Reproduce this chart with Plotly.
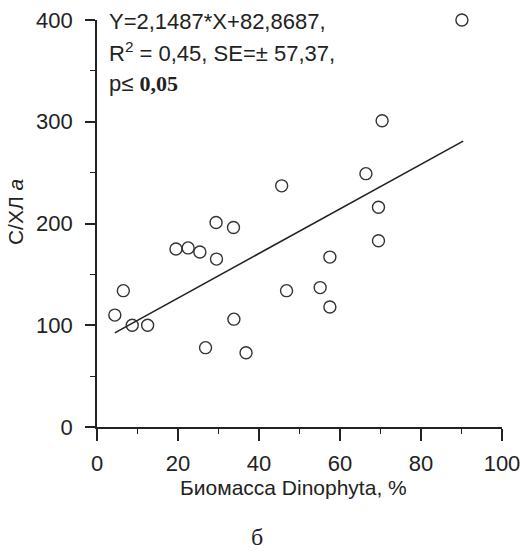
import plotly.graph_objects as go

# Data
biomass_pct = [90.1, 70.4, 66.4, 45.6, 69.5, 69.5, 57.5, 55.1, 57.5, 46.8,
               29.4, 33.7, 19.5, 22.5, 25.4, 29.5, 6.5, 4.4, 8.7, 12.5,
               33.8, 26.8, 36.8]
c_chl = [400, 301, 249, 237, 216, 183, 167, 137, 118, 134,
         201, 196, 175, 176, 172, 165, 134, 110, 100, 100,
         106, 78, 73]

# Regression line as drawn (Y=2,1487*X+82,8687)
fit_x = [4.4, 90.4]
fit_y = [92.5, 281.0]

x_ticks = [0, 20, 40, 60, 80, 100]
y_ticks = [0, 100, 200, 300, 400]

eq_lines = ["Y=2,1487*X+82,8687,",
            "R<sup>2</sup> = 0,45, SE=± 57,37,",
            "p≤ <span style='font-family:Liberation Serif, Times New Roman, serif'><b>0,05</b></span>"]

FONT = "Liberation Sans, Arial, sans-serif"
INK = "#222222"

fig = go.Figure()
fig.add_trace(go.Scatter(x=fit_x, y=fit_y, mode="lines",
                         line=dict(color=INK, width=1.6),
                         cliponaxis=False, showlegend=False))
fig.add_trace(go.Scatter(x=biomass_pct, y=c_chl, mode="markers",
                         marker=dict(symbol="circle-open", size=12,
                                     color="#333333", line=dict(width=1.4)),
                         cliponaxis=False, showlegend=False))

fig.update_layout(
    width=521, height=551,
    margin=dict(l=97, r=19, t=20, b=124, autoexpand=False),
    paper_bgcolor="white", plot_bgcolor="white",
    font=dict(family=FONT, size=22, color=INK),
    xaxis=dict(range=[0, 100], tickvals=x_ticks, ticks="outside",
               ticklen=12, tickwidth=1.6, tickcolor=INK, automargin=False,
               showline=True, linecolor=INK, linewidth=1.8,
               showgrid=False, zeroline=False, ticklabelstandoff=4,
               minor=dict(dtick=10, ticks="outside", ticklen=5,
                          tickwidth=1.4, tickcolor=INK, showgrid=False)),
    yaxis=dict(range=[0, 400], tickvals=y_ticks, ticks="outside",
               ticklen=10, tickwidth=1.6, tickcolor=INK, automargin=False,
               showline=True, linecolor=INK, linewidth=1.8,
               showgrid=False, zeroline=False, ticklabelstandoff=8,
               minor=dict(dtick=50, ticks="outside", ticklen=5,
                          tickwidth=1.4, tickcolor=INK, showgrid=False)),
)

for txt, yy in zip(eq_lines, [0.9975, 0.921, 0.845]):
    fig.add_annotation(
        x=0.024, y=yy, xref="paper", yref="paper",
        xanchor="left", yanchor="middle", align="left", showarrow=False,
        text=txt, font=dict(family=FONT, size=22, color=INK),
    )
fig.add_annotation(
    x=0.484, y=-0.148, xref="paper", yref="paper",
    xanchor="center", yanchor="middle", showarrow=False,
    text="Биомасса Dinophyta, %", font=dict(family=FONT, size=21, color=INK),
)
fig.add_annotation(
    x=-0.2025, y=0.528, xref="paper", yref="paper",
    xanchor="center", yanchor="middle", showarrow=False, textangle=-90,
    text="С/ХЛ <i>a</i>", font=dict(family=FONT, size=21, color=INK),
)
fig.add_annotation(
    x=0.395, y=-0.27, xref="paper", yref="paper",
    xanchor="center", yanchor="middle", showarrow=False,
    text="б", font=dict(family="Liberation Serif, Times New Roman, serif", size=24, color=INK),
)

fig.write_html("out.html", config={"displayModeBar": False},
               post_script="document.body.style.margin='0';document.body.style.overflow='hidden';")
